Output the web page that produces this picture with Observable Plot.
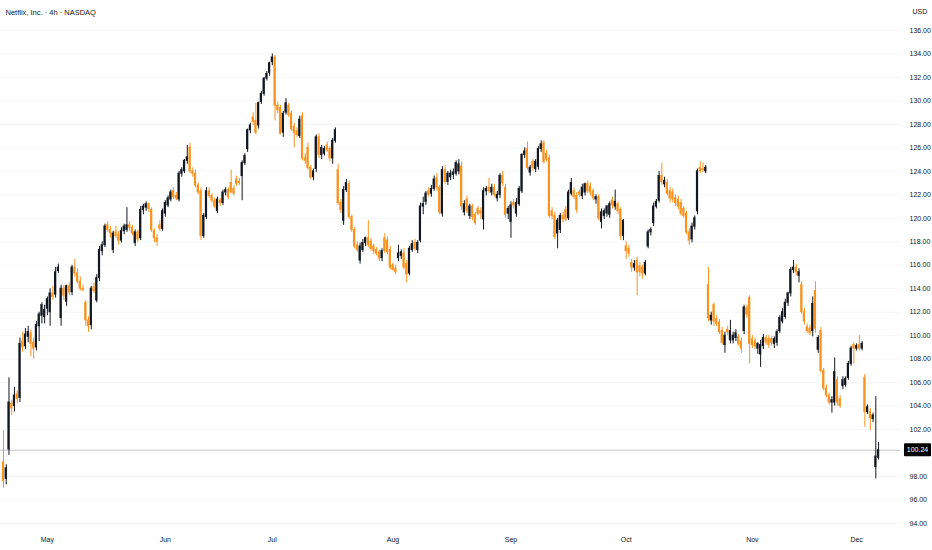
<!DOCTYPE html>
<html><head><meta charset="utf-8">
<script src="https://cdn.jsdelivr.net/npm/d3@7"></script>
<script src="https://cdn.jsdelivr.net/npm/@observablehq/plot@0.6"></script>
<style>
html,body{margin:0;padding:0;background:#fff;}
#chart{width:932px;height:550px;overflow:hidden;}
</style></head><body><div id="chart"></div>
<script>
const title = "Netflix, Inc. · 4h · NASDAQ";
const currency = "USD";
const monthLabels = ["May","Jun","Jul","Aug","Sep","Oct","Nov","Dec"];
const monthStarts = [16,59,98,142,185,227,273,311];
const priceTicks = [94,96,98,100,102,104,106,108,110,112,114,116,118,120,122,124,126,128,130,132,134,136];

const open = [
99.2,97.8,100.3,104.2,104.0,105.0,104.7,109.5,109.1,109.9,
110.2,109.4,109.0,110.8,111.7,111.6,112.3,112.0,113.6,113.5,
115.5,111.5,114.0,112.9,114.2,113.7,115.8,115.3,114.6,114.0,
112.8,111.3,110.9,114.1,113.0,114.9,117.2,117.7,119.4,119.0,
117.3,118.8,118.6,118.1,118.9,119.0,119.4,119.2,117.9,118.8,
118.3,120.7,120.9,121.2,120.7,118.9,118.3,119.4,119.1,120.4,
121.1,121.6,122.3,121.9,121.6,123.8,124.0,124.9,126.0,124.0,
123.8,122.8,122.3,118.5,120.1,122.3,121.9,121.5,120.6,121.5,
121.3,122.2,122.4,123.0,122.5,123.3,123.1,123.6,124.7,125.9,
127.5,128.6,128.3,127.9,129.9,130.6,131.9,132.4,133.3,133.7,
129.6,129.4,127.3,129.0,129.6,128.9,127.8,127.4,127.0,128.7,
125.1,126.0,124.3,123.5,124.2,126.9,125.4,125.5,126.2,125.9,
125.1,126.6,124.1,121.3,119.8,122.4,122.9,120.1,119.0,117.7,
116.4,117.3,117.9,118.3,118.0,117.6,117.3,117.1,116.6,118.3,
118.1,117.3,116.0,115.7,116.6,116.8,117.0,116.1,115.3,117.3,
117.9,117.3,118.1,121.0,121.4,122.3,122.1,122.5,123.4,122.6,
120.4,124.1,123.1,123.5,123.7,123.8,124.0,124.4,120.5,121.6,
120.2,121.0,120.3,120.8,120.6,119.9,122.3,122.6,122.2,122.6,
121.7,122.0,123.6,122.6,120.4,119.7,121.3,120.4,121.2,122.3,
125.4,125.9,123.9,124.8,124.2,124.4,125.9,126.4,125.5,125.1,
120.6,120.2,118.7,119.0,120.2,120.7,120.0,122.1,122.3,121.9,
122.2,121.9,122.2,122.9,122.7,122.3,121.6,121.8,119.7,120.2,
120.4,120.3,121.5,121.0,121.2,120.7,118.5,117.6,117.4,116.2,
115.8,116.4,115.9,115.8,115.3,117.6,118.8,119.6,121.0,121.5,
123.6,122.9,123.0,122.3,122.2,121.7,121.6,121.3,120.8,120.4,
118.8,118.2,119.3,120.6,124.3,124.2,124.0,114.3,111.3,112.6,
111.4,111.1,110.4,109.2,110.5,109.6,109.6,109.8,109.9,109.5,
110.4,112.4,113.2,109.7,109.5,108.9,108.4,109.1,109.8,109.7,
109.7,109.3,109.4,110.4,111.2,111.6,112.8,113.6,115.6,115.8,
115.1,114.3,112.0,110.7,110.6,110.4,113.8,108.8,110.4,107.0,
105.5,104.9,104.3,104.3,106.2,104.6,105.7,105.8,106.4,107.6,
109.2,108.9,109.2,108.9,106.4,103.5,103.5,102.9,98.8,99.6
];
const high = [
101.9,99.0,106.4,104.5,105.6,105.3,109.8,110.3,110.6,110.8,
110.5,109.8,111.2,112.0,112.8,112.6,113.3,114.0,114.2,115.8,
116.1,114.3,114.3,114.3,114.5,116.0,116.5,115.7,115.0,114.3,
113.0,111.6,114.2,114.5,115.2,117.6,118.0,119.5,119.7,119.3,
118.9,119.3,118.9,119.2,119.5,120.9,119.7,119.4,119.0,119.0,
121.0,121.2,121.4,121.3,120.9,119.1,118.6,119.8,120.8,121.5,
121.9,122.4,122.6,122.2,124.0,124.3,125.0,126.2,126.4,124.3,
124.1,123.0,122.6,120.4,122.6,122.6,122.1,121.7,121.8,121.7,
122.4,122.6,122.6,124.1,122.8,123.6,123.4,124.9,125.5,127.6,
128.1,129.0,129.8,129.9,130.8,132.0,132.5,133.3,134.0,133.9,
129.9,129.6,129.1,130.2,129.8,129.1,128.1,127.7,128.7,129.0,
125.5,126.4,124.5,124.2,127.1,127.2,126.2,126.1,126.5,126.1,
126.8,127.7,124.6,121.6,122.7,123.3,123.2,120.3,119.2,118.0,
117.9,118.2,118.4,119.8,118.3,117.8,117.5,117.3,117.4,118.7,
118.4,117.6,116.2,116.0,117.7,117.3,117.4,116.4,117.6,118.1,
118.2,118.1,121.3,121.8,122.3,122.6,122.8,123.6,123.8,122.8,
124.4,124.5,124.0,124.1,124.2,124.9,125.0,124.8,121.5,121.9,
121.2,121.2,120.5,121.0,120.9,122.6,122.7,123.4,122.9,122.9,
122.3,123.8,124.0,122.9,121.0,121.4,121.6,121.7,122.7,125.5,
126.0,126.5,124.5,125.0,125.0,126.1,126.6,126.6,125.8,125.4,
120.9,120.5,120.0,120.4,120.5,121.0,122.4,123.4,122.6,122.2,
122.4,122.9,123.0,123.2,123.0,122.5,122.0,122.0,120.8,120.8,
121.1,121.4,121.8,122.4,121.4,120.9,119.9,118.0,117.7,116.5,
116.4,116.7,116.2,116.0,116.4,119.0,119.2,121.3,121.6,124.0,
124.7,123.5,123.3,122.6,122.5,122.0,121.9,121.6,121.0,120.6,
119.1,119.6,120.2,124.2,124.8,124.7,124.5,115.8,112.0,112.8,
111.7,111.4,110.7,110.3,110.8,111.3,110.3,110.5,110.1,109.8,
112.6,112.6,113.4,110.0,109.8,109.4,109.6,110.1,110.0,110.0,
109.9,109.9,110.5,111.7,112.3,113.1,113.7,115.8,116.4,116.1,
115.7,114.6,112.3,111.0,110.9,113.3,114.6,110.0,110.7,107.2,
105.8,105.1,104.8,108.1,106.5,104.9,106.5,106.5,107.8,109.1,
109.4,109.3,110.0,109.5,106.7,104.1,103.8,103.4,104.8,100.9
];
const low = [
97.0,97.3,99.8,103.2,103.5,104.2,104.3,108.6,108.8,109.4,
108.2,108.0,108.7,109.5,111.0,111.0,111.7,110.8,113.0,113.2,
115.3,110.8,113.0,112.5,113.4,113.4,115.0,114.4,113.8,113.7,
110.8,110.3,110.5,113.6,112.8,114.6,116.8,117.5,118.8,118.3,
117.0,118.3,117.7,117.9,118.6,118.8,118.9,118.5,117.6,117.9,
118.1,120.3,120.6,120.5,118.8,117.9,117.6,118.9,118.9,120.1,
120.9,121.4,121.6,121.5,121.4,123.5,123.8,124.6,123.8,123.5,
122.6,122.0,118.1,118.3,119.9,121.7,121.3,120.8,120.4,121.0,
121.1,121.9,121.6,122.1,121.9,122.7,122.8,121.5,124.5,125.6,
127.2,127.9,127.1,127.6,129.7,130.4,131.7,132.1,133.0,128.3,
128.9,127.1,126.9,128.8,128.6,127.4,126.0,126.9,126.8,124.9,
124.6,124.1,123.3,123.2,123.9,125.1,125.0,125.3,125.6,124.8,
124.6,126.4,121.1,120.4,119.4,122.2,119.9,118.8,117.4,117.1,
116.1,117.1,117.6,117.5,117.2,116.9,116.8,116.3,116.3,117.0,
116.9,115.6,115.5,115.2,116.3,116.5,115.6,114.5,115.1,117.1,
117.2,117.0,117.9,120.3,121.1,121.8,121.8,122.3,122.3,120.3,
120.1,122.9,122.8,123.2,123.3,123.6,123.7,120.7,120.2,120.4,
119.9,119.8,119.4,120.2,119.9,119.0,121.9,122.1,121.9,121.8,
121.4,121.7,122.7,120.0,119.9,118.3,120.8,120.1,121.0,122.1,
125.1,124.1,123.6,124.0,123.9,124.1,125.6,124.6,124.8,120.0,
119.9,118.2,117.4,118.7,119.6,119.7,119.8,121.9,121.6,120.4,
121.8,121.6,121.9,122.1,121.9,121.5,121.2,119.8,119.1,119.9,
120.1,120.0,120.8,120.7,120.3,118.1,118.1,116.5,116.7,115.4,
115.5,113.4,115.0,114.8,115.1,117.4,118.5,119.3,120.8,121.3,
122.8,122.6,121.9,121.3,121.3,121.0,120.7,120.2,120.0,118.6,
117.7,117.9,119.0,120.3,123.8,123.9,123.8,111.2,110.9,110.8,
110.8,110.1,109.2,108.5,110.0,109.3,109.3,109.5,109.1,108.5,
110.1,111.5,107.6,108.9,108.8,108.4,107.3,108.8,109.2,108.9,
109.1,108.9,109.1,110.2,111.0,111.4,112.5,113.3,115.3,115.1,
114.5,111.8,110.9,110.2,110.0,109.9,110.2,108.5,106.8,105.3,
104.7,104.1,103.4,104.0,104.0,103.8,105.4,105.6,106.2,107.4,
107.6,108.7,108.7,108.7,102.2,103.3,101.9,102.6,97.8,99.4
];
const close = [
97.6,98.7,104.3,103.8,104.9,104.6,109.3,109.0,110.1,110.3,
109.3,108.9,110.9,111.8,112.6,112.2,113.1,113.6,113.3,115.4,
115.8,114.0,113.4,114.2,113.7,115.8,115.3,114.6,114.0,113.9,
111.3,110.8,114.0,113.8,114.9,117.3,117.7,119.3,119.0,118.7,
118.7,118.5,118.1,118.9,119.3,119.4,119.2,118.7,118.8,118.2,
120.7,121.0,121.2,120.8,119.0,118.3,118.0,119.1,120.6,121.3,
121.7,122.2,121.8,121.7,123.8,124.1,124.9,125.2,124.0,123.8,
122.8,122.2,118.5,120.2,122.3,121.9,121.5,121.0,121.6,121.3,
122.2,122.4,121.8,122.2,122.1,122.9,123.0,124.7,125.3,127.5,
127.9,128.2,127.3,129.8,130.6,131.9,132.3,133.2,133.7,129.6,
129.2,127.2,128.9,129.8,128.8,127.6,127.3,127.1,128.4,125.1,
124.9,124.3,123.5,124.0,126.9,125.4,126.0,125.9,125.8,125.1,
126.6,127.5,121.3,120.7,122.4,123.0,120.1,119.0,117.6,117.3,
117.6,117.9,118.3,117.7,117.4,117.2,117.0,116.6,117.2,117.2,
117.1,115.8,115.6,115.4,117.0,117.1,115.8,115.2,117.4,117.8,
117.4,117.9,121.0,121.2,122.1,122.0,122.5,123.3,122.6,120.5,
124.1,123.1,123.8,123.8,123.9,124.7,124.6,121.0,121.2,120.6,
121.0,120.1,119.6,120.4,120.4,122.3,122.5,122.3,122.6,122.0,
122.0,123.6,123.0,120.3,120.8,121.1,121.1,121.3,122.5,125.4,
125.7,124.3,124.3,124.3,124.8,125.9,126.3,124.8,125.0,120.2,
120.2,118.4,119.8,120.2,119.9,119.9,122.2,123.0,121.8,120.7,
122.0,122.6,122.9,122.3,122.2,121.7,121.8,120.0,120.5,120.6,
121.0,121.2,121.1,121.4,120.6,118.5,119.8,117.2,117.0,115.8,
116.1,115.4,115.4,115.3,116.2,118.8,119.0,121.0,121.4,123.6,
123.1,123.2,122.1,121.7,121.6,121.3,121.0,120.4,120.2,118.8,
118.1,119.3,120.0,124.0,124.0,124.1,124.3,111.5,111.7,111.2,
111.0,110.3,109.4,110.0,110.3,110.4,110.0,110.2,109.3,108.9,
112.4,111.8,109.3,109.2,109.1,109.3,109.2,109.8,109.4,109.2,
109.4,109.7,110.3,111.5,112.0,112.8,113.6,115.6,115.8,115.4,
115.4,112.0,111.2,110.4,110.2,112.7,110.6,109.8,107.0,105.5,
104.9,104.3,104.5,106.9,104.3,104.0,106.2,106.3,107.6,108.9,
108.9,109.1,108.9,109.3,103.5,103.9,103.0,103.2,99.7,100.24
];

if (new Set([open.length, high.length, low.length, close.length]).size > 1)
  throw new Error("length mismatch " + [open.length, high.length, low.length, close.length]);

const candles = open.map((o, i) => ({i, open: o, high: high[i], low: low[i], close: close[i]}));
const lastClose = close[close.length - 1];
// the last-price tag covers the axis label nearest to it
const axisTicks = priceTicks.filter(t => Math.abs(t - lastClose) > 1);

const UP = "#131722", DOWN = "#f7931e";
const FONT = "'Liberation Sans Narrow', 'Liberation Sans', 'DejaVu Sans Condensed', sans-serif";
const col = d => d.close >= d.open ? UP : DOWN;

const plot = Plot.plot({
  width: 932, height: 550,
  marginLeft: 0, marginRight: 32, marginTop: 0, marginBottom: 20,
  style: {fontFamily: FONT, fontSize: "7px", color: "#131722", background: "#ffffff"},
  x: {type: "linear", domain: [-1.09, 327.0], axis: null, label: null},
  y: {domain: [93.40, 138.556], axis: null, label: null},
  color: {type: "identity"},
  marks: [
    Plot.ruleY(priceTicks, {stroke: "#f7f7f9", strokeWidth: 1}),
    Plot.ruleY([lastClose], {stroke: "#c4c6cc", strokeWidth: 1}),
    Plot.ruleX(candles, {x: "i", y1: "low", y2: "high", stroke: col, strokeWidth: 1}),
    Plot.rect(candles, {
      x1: d => d.i - 0.4, x2: d => d.i + 0.4,
      y1: d => Math.min(d.open, d.close), y2: d => Math.max(d.open, d.close),
      fill: col, insetTop: -0.5, insetBottom: -0.5
    }),
    Plot.axisY(axisTicks, {anchor: "right", tickSize: 0, tickPadding: 9, textAnchor: "start", label: null,
      tickFormat: d => d.toFixed(2), fontSize: 7, fill: "#131722"}),
    Plot.axisX(monthStarts, {anchor: "bottom", tickSize: 0, tickPadding: 7, label: null,
      tickFormat: d => monthLabels[monthStarts.indexOf(d)], fontSize: 7, fill: "#131722"}),
    Plot.text([title], {frameAnchor: "top-left", dx: 5, dy: 9, text: d => d, fontSize: 7.5, fill: "#131722", textAnchor: "start"}),
    Plot.text([currency], {frameAnchor: "top-right", dx: 12, dy: 9, text: d => d, fontSize: 7, fill: "#131722", textAnchor: "start"})
  ]
});

const ys = plot.scale("y");
const yPos = ys.apply(lastClose);
const svg = d3.select(plot.tagName.toLowerCase() === "svg" ? plot : plot.querySelector("svg"));
svg.append("rect").attr("x", 904).attr("y", yPos - 6.5).attr("width", 27).attr("height", 13).attr("fill", "#000").attr("rx", 1);
svg.append("text").attr("x", 917.5).attr("y", yPos).attr("dy", "0.35em").attr("text-anchor", "middle")
  .attr("fill", "#fff").attr("font-size", 7).attr("font-family", FONT).text(lastClose.toFixed(2));

document.getElementById("chart").appendChild(plot);
</script>
</body></html>
